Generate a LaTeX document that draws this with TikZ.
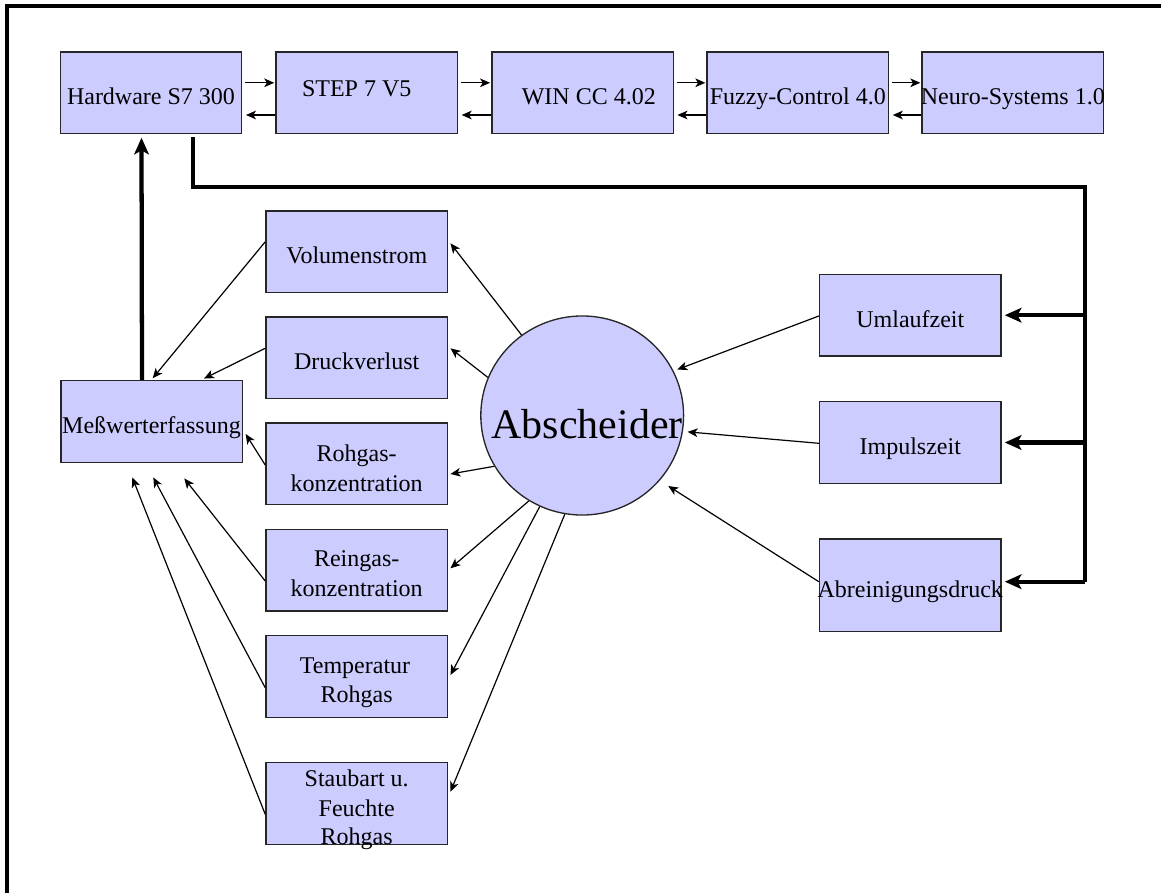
\documentclass[tikz,border=0pt]{standalone}
\usepackage{fontspec}
\setmainfont{Liberation Serif}
\usetikzlibrary{calc,arrows.meta,shapes.geometric}
\definecolor{boxfill}{RGB}{204,204,255}
\newcommand\zerow[1]{\makebox[0pt]{#1}}
\begin{document}
\begin{tikzpicture}[x=0.75pt,y=-0.75pt,
  every node/.style={font=\fontsize{18}{21.75}\selectfont, inner sep=0pt},
  blk/.style={draw=black!85, line width=1.1pt, fill=boxfill, rectangle,
    minimum width=136.1pt, minimum height=61.2pt, text height=21.6pt, text depth=3.6pt},
  arr/.style={line width=0.9pt, -{Stealth[length=7.5pt,width=6.5pt,inset=2pt]}},
  thk/.style={line width=3.2pt},
  thkarr/.style={thk, -{Stealth[length=12.5pt,width=11pt,inset=3pt]}},
  bigtxt/.style={font=\fontsize{31.5}{36}\selectfont}]
\useasboundingbox (0,0) rectangle (1161,893);
\draw[line width=2.4pt] (1161,6) -- (7,6) -- (7,893);

% top row
\node[blk] (hw) at (151,92.8) {Hardware S7 300};
\node[blk, text height=12.6pt, text depth=7.8pt] (step) at (366.7,92.8) {\zerow{\hspace*{-15pt}STEP 7 V5}};
\node[blk] (wincc) at (582.5,92.8) {\zerow{\hspace*{9.4pt}WIN CC 4.02}};
\node[blk] (fuzzy) at (797.8,92.8) {\zerow{Fuzzy-Control 4.0}};
\node[blk] (neuro) at (1012.8,92.8) {\zerow{Neuro-Systems 1.0}};

% left column
\node[blk] (vol) at (356.7,251.8) {Volumenstrom};
\node[blk] (druck) at (356.7,357.7) {Druckverlust};
\node[blk] (rohk) at (356.7,463.8) {};
\node[blk] (reink) at (356.7,570.2) {};
\node[blk] (temp) at (356.7,676.5) {};
\node[blk] (staub) at (356.7,803.5) {};
\node[anchor=base] (rk1) at ($(rohk.center)+(0,-2.8)$) {Rohgas-};
\node[anchor=base] (rk2) at ($(rohk.center)+(0,27.2)$) {konzentration};
\node[anchor=base] (re1) at ($(reink.center)+(0,-3.5)$) {Reingas-};
\node[anchor=base] (re2) at ($(reink.center)+(0,25.8)$) {konzentration};
\node[anchor=base] (te1) at ($(temp.center)+(-1.7,-3.2)$) {Temperatur};
\node[anchor=base] (te2) at ($(temp.center)+(0,25.8)$) {Rohgas};
\node[anchor=base] (st1) at ($(staub.center)+(0,-17.5)$) {Staubart u.};
\node[anchor=base] (st2) at ($(staub.center)+(0,12.5)$) {Feuchte};
\node[anchor=base] (st3) at ($(staub.center)+(0,40.5)$) {Rohgas};

\node[blk] (mess) at (151.5,421.5) {\zerow{Meßwerterfassung}};

% right column
\node[blk] (uml) at (910.3,315.2) {Umlaufzeit};
\node[blk] (imp) at (910.3,442.5) {Impulszeit};
\node[blk, minimum height=69.5pt] (abr) at (910.3,585.3) {\zerow{Abreinigungsdruck}};

% separator
\node[draw=black!85, line width=1pt, fill=boxfill, ellipse, minimum width=152.1pt,
  minimum height=149.3pt, inner sep=0pt] (abs) at (582.2,415.5) {};
\node[bigtxt, anchor=base] (abstxt) at (587,438) {Abscheider};

% top row connectors
\foreach \a/\b in {hw/step, step/wincc, wincc/fuzzy, fuzzy/neuro} {
  \draw[arr] ($(\a.east)+(3,-10)$) -- ($(\b.west)+(-1,-10)$);
  \draw[arr] ($(\b.west)+(0,22.2)$) -- ($(\a.east)+(3.5,22.2)$);
}

% bus from hardware
\coordinate (busR) at (1085,187);
\coordinate (busB) at (1085,581.7);
\draw[thk] ($(hw.south)+(42,2.5)$) |- (busR) -- (busB);
\draw[thkarr] (busR |- uml.east) -- ($(uml.east)+(3,0)$);
\draw[thkarr] (busR |- imp.east) -- ($(imp.east)+(3,0)$);
\draw[thkarr] (busB) -- ($(busB -| abr.east)+(3,0)$);

% measurement to hardware
\draw[thkarr] ($(mess.north)+(-9.5,0)$) -- ($(hw.south)+(-9.5,3.4)$);

% separator outputs
\draw[arr] (abs.127.9) -- ($(vol.east)+(2.3,-8.5)$);
\draw[arr] (abs.158.9) -- ($(druck.east)+(2.3,-9.4)$);
\draw[arr] (abs.210.5) -- ($(rohk.east)+(2.3,10.2)$);
\draw[arr] (abs.238.5) -- ($(reink.east)+(2.3,-1.9)$);
\draw[arr] (abs.245.9) -- ($(temp.east)+(2.3,-1.5)$);
\draw[arr] (abs.260.9) -- ($(staub.east)+(2.3,-11.8)$);

% inputs to separator
\draw[arr, shorten >=3pt] ($(uml.west)+(0,0.8)$) -- (abs.26.3);
\draw[arr, shorten >=3.5pt] ($(imp.west)+(0,0.8)$) -- (abs.-9.7);
\draw[arr, shorten >=7.5pt] ($(abr.west)+(0,-3.6)$) -- (abs.-40.1);

% measurements to acquisition
\draw[arr] ($(vol.west)+(0,-10)$) -- ($(mess.north)+(1.2,-1.7)$);
\draw[arr] ($(druck.west)+(0,-9.4)$) -- ($(mess.north)+(52.5,-1.4)$);
\draw[arr] ($(rohk.west)+(0,1.2)$) -- ($(mess.east)+(2.7,12.5)$);
\draw[arr] ($(reink.west)+(0,10.8)$) -- ($(mess.south)+(32.8,15.4)$);
\draw[arr] ($(temp.west)+(0,11.2)$) -- ($(mess.south)+(1.8,14.4)$);
\draw[arr] ($(staub.west)+(0,10.8)$) -- ($(mess.south)+(-19.2,14.4)$);
\end{tikzpicture}
\end{document}
